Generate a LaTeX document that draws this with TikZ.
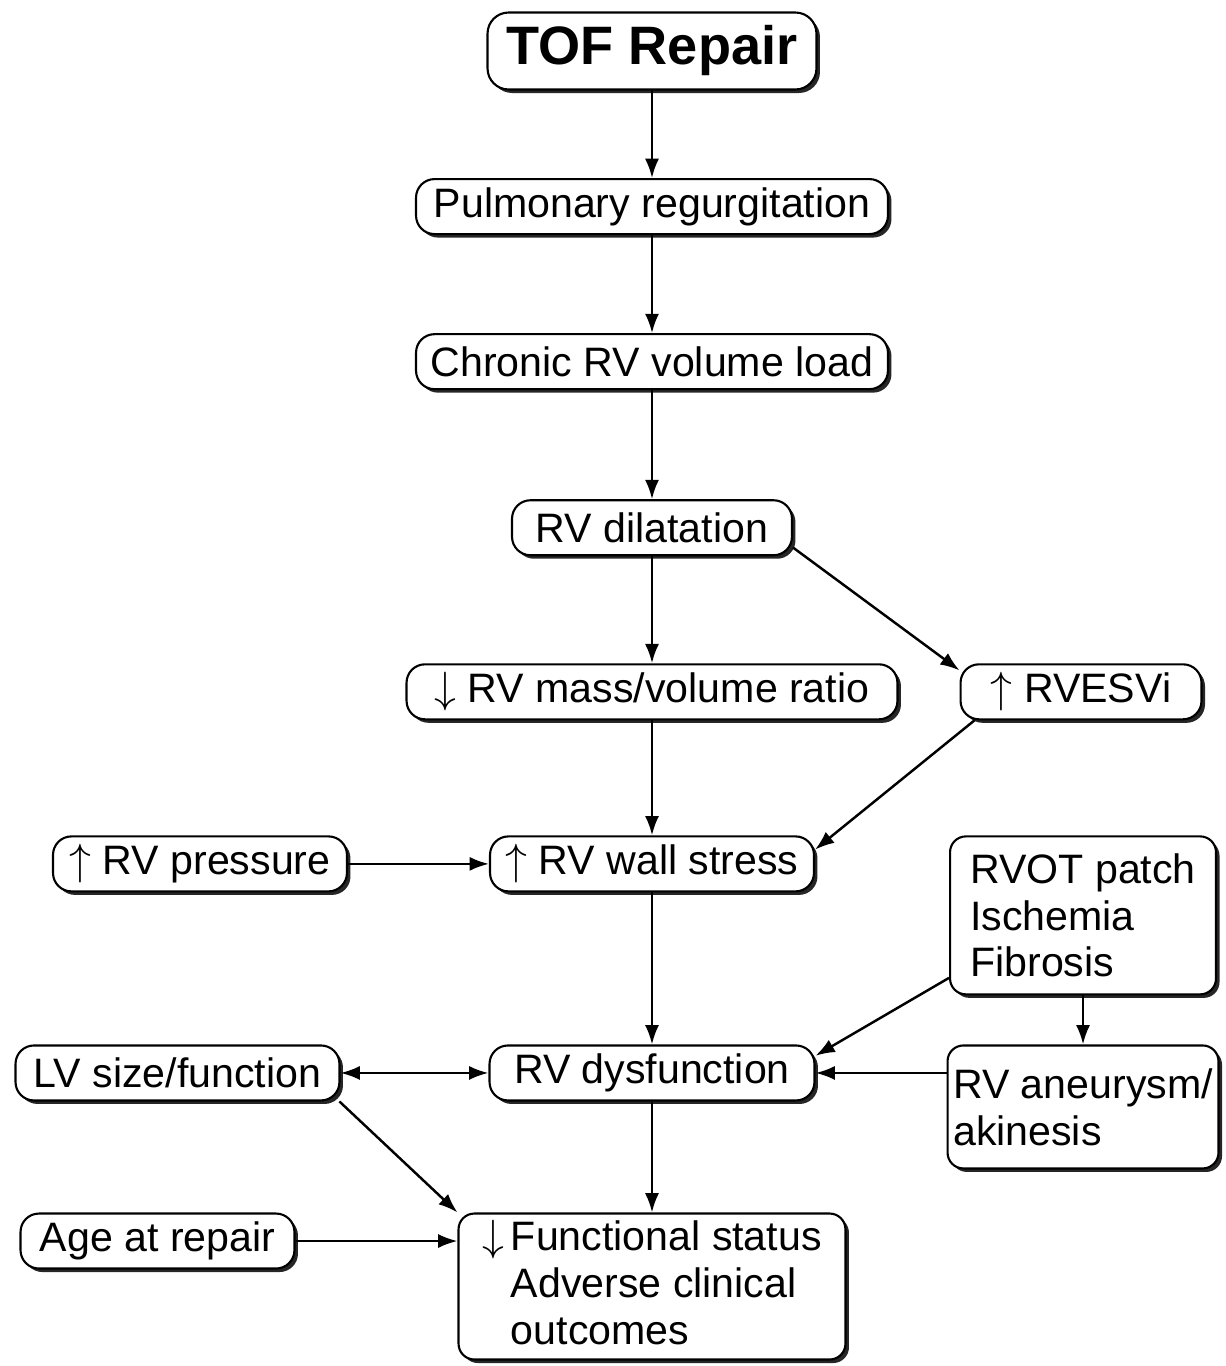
\documentclass[tikz,border=0pt]{standalone}
\usepackage{fontspec}
\setmainfont{Liberation Sans}
\usetikzlibrary{arrows.meta,positioning,shadows}

\begin{document}
\begin{tikzpicture}[x=0.02cm,y=-0.02cm,
        >={Latex[length=11pt,width=8pt]},
        line width=1.4pt,
        box/.style={draw,fill=white,line width=1.2pt,rounded corners=10.5pt,align=left,
          minimum height=1.1cm,inner xsep=4pt,inner ysep=2pt,
          font=\fontsize{23.4}{26.6}\selectfont,
          drop shadow={shadow xshift=2pt,shadow yshift=-2pt,fill=black!85,opacity=1}},
        tofbox/.style={box,rounded corners=12pt,font=\fontsize{30.8}{34}\selectfont\bfseries}
      ]

  \useasboundingbox (0,0) rectangle (1225,1366);

  \node   (tof) [tofbox,minimum width=6.58cm,minimum height=1.54cm] at (652,51) {TOF Repair};
  \node   (pulm) [box,minimum width=9.44cm,below=1.75cm of tof] {Pulmonary regurgitation};
  \node   (chron) [box,minimum width=9.44cm,below=1.96cm of pulm] {Chronic RV volume load};
  \node   (dil) [box,minimum width=5.6cm,below=2.18cm of chron] {RV dilatation};
  \node   (mass) [box,minimum width=9.82cm,below=2.14cm of dil] {$\downarrow$ RV mass/volume ratio};
  \node   (esv) [box,minimum width=4.82cm,right=1.22cm of mass] {$\uparrow$ RVESVi};
  \node   (wall) [box,minimum width=6.48cm,below=2.3cm of mass] {$\uparrow$ RV wall stress};
  \node   (pres) [box,minimum width=5.88cm,left=2.82cm of wall] {$\uparrow$ RV pressure};
  \node   (rvot) [box,rounded corners=9pt,minimum width=5.32cm,minimum height=3.16cm,right=2.68cm of wall.north east,anchor=north west] {RVOT patch\\Ischemia\\Fibrosis};

  \node   (dys) [box,minimum width=6.5cm,below=3.04cm of wall] {RV dysfunction};
  \node   (lv) [box,minimum width=6.48cm,left=2.96cm of dys] {LV size/function};
  \node   (aneur) [box,rounded corners=9pt,minimum width=5.42cm,minimum height=2.46cm,inner xsep=2pt,below=0.98cm of rvot] {RV aneurysm/\\akinesis};

  \node   (fun) [box,rounded corners=9pt,minimum width=7.74cm,minimum height=2.92cm,below=2.22cm of dys] {$\downarrow$\,Functional status\\\phantom{$\downarrow$\,}Adverse clinical\\\phantom{$\downarrow$\,}outcomes};
  \node   (age) [box,minimum width=5.48cm,below=2.22cm of lv.south west,anchor=north west,xshift=0.1cm] {Age at repair};

  \draw[->] (tof) -- (pulm);
  \draw[->] (pulm) -- (chron);
  \draw[->] (chron) -- (dil);
  \draw[->] (dil) -- (mass);
  \draw[->] (dil.-8) -- (esv.170);
  \draw[->] (mass) -- (wall);
  \draw[->] (esv.195) -- (wall.5);
  \draw[->] (pres) -- (wall);
  \draw[->] (wall) -- (dys);
  \draw[->] (rvot.205) -- (dys.6);
  \draw[->] (rvot.south) -- (rvot.south |- aneur.north);
  \draw[->] (dys.east -| aneur.west) -- (dys.east);
  \draw[<->] (lv) -- (dys);
  \draw[->] (lv.-10) -- (fun.north west);
  \draw[->] (dys) -- (fun);
  \draw[->] (age) -- (age -| fun.west);

\end{tikzpicture}
\end{document}
